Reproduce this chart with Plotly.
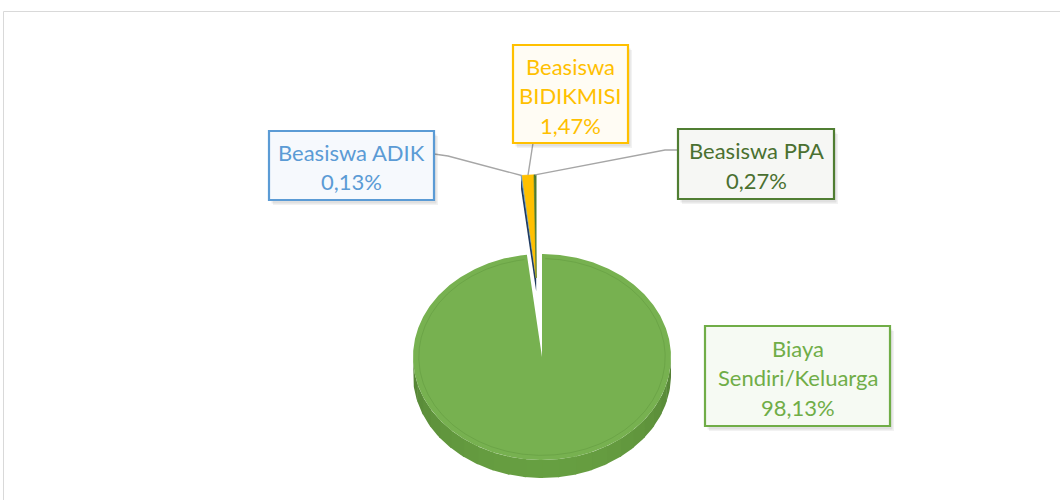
import numpy as np
import plotly.graph_objects as go

# ---------------- data ----------------
categories = ["Biaya Sendiri/Keluarga", "Beasiswa ADIK", "Beasiswa BIDIKMISI", "Beasiswa PPA"]
values = [98.13, 0.13, 1.47, 0.27]

# ---------------- styles ----------------
slice_colors = ["#77B150", "#5B9BD5", "#FFC000", "#4E7A30"]
side_colors = ["#659C40", "#1F3A60", "#B08400", "#2E4A1B"]
text_colors = ["#70AD47", "#5B9BD5", "#FFC000", "#4A7030"]
border_colors = ["#70AD47", "#5B9BD5", "#FFC000", "#507E32"]
fill_colors = ["#F6FAF3", "#F6F9FD", "#FFFCF4", "#F6F7F4"]
label_lines = {
    "Biaya Sendiri/Keluarga": ["Biaya", "Sendiri/Keluarga"],
    "Beasiswa ADIK": ["Beasiswa ADIK"],
    "Beasiswa BIDIKMISI": ["Beasiswa", "BIDIKMISI"],
    "Beasiswa PPA": ["Beasiswa PPA"],
}
label_boxes = {  # x0, y0, x1, y1 in pixels
    "Biaya Sendiri/Keluarga": (705, 326, 890, 426),
    "Beasiswa ADIK": (269, 131, 434, 200),
    "Beasiswa BIDIKMISI": (513, 45, 628, 143),
    "Beasiswa PPA": (678, 129, 834, 199),
}
leader_start = {  # start point(s) of leader lines at the label box
    "Beasiswa ADIK": [(434, 154), (448, 156)],
    "Beasiswa BIDIKMISI": [(533, 143)],
    "Beasiswa PPA": [(678, 150), (665, 150)],
}

W, H = 1060, 500
CX, CY = 542, 357
RX, RY = 129, 103
DEPTH = 18
EXPLODE = 0.77
FONT = "Lato, Carlito, 'Open Sans', sans-serif"
FSIZE = 22
LINE_H = 29.5

total = sum(values)
starts, ends = [], []
acc = 0.0
for v in values:
    starts.append(360.0 * acc / total)
    acc += v
    ends.append(360.0 * acc / total)


def pt(phi, r=1.0, ox=0.0, oy=0.0):
    a = np.radians(phi)
    return CX + ox + r * RX * np.sin(a), CY + oy - r * RY * np.cos(a)


def arc(a0, a1, r=1.0, ox=0.0, oy=0.0, n=None):
    if n is None:
        n = max(3, int(abs(a1 - a0) * 2) + 2)
    ph = np.linspace(a0, a1, n)
    x, y = pt(ph, r, ox, oy)
    return list(x), list(y)


fig = go.Figure()


def poly(xs, ys, color, line_color=None, width=0):
    fig.add_trace(go.Scatter(
        x=xs, y=ys, mode="lines", fill="toself", fillcolor=color,
        line=dict(color=line_color or color, width=width),
        hoverinfo="skip", showlegend=False))


def hexrgb(h):
    h = h.lstrip("#")
    return [int(h[i:i + 2], 16) for i in (0, 2, 4)]


# ---- main slice (not exploded): side with shading ----
base = hexrgb(side_colors[0])
seg = 7.5
a = 90.0
while a < 270.0 - 1e-9:
    b = min(a + seg, 270.0)
    mid = (a + b) / 2
    f = 0.80 + 0.22 * np.sin(np.radians(mid - 90)) ** 0.7
    c = "rgb(%d,%d,%d)" % tuple(min(255, int(ch * f)) for ch in base)
    tx, ty = arc(a - 0.4, b + 0.4)
    bx, by = arc(b + 0.4, a - 0.4, oy=DEPTH)
    poly(tx + bx, ty + by, c)
    a = b

# ---- main slice top face ----
tx, ty = arc(starts[0], ends[0])
poly([CX] + tx + [CX], [CY] + ty + [CY], slice_colors[0])
# subtle bevel line
bx, by = arc(starts[0] + 1.5, ends[0] - 1.5, r=0.955)
fig.add_trace(go.Scatter(x=bx, y=by, mode="lines",
                         line=dict(color="rgba(85,140,55,0.35)", width=1),
                         hoverinfo="skip", showlegend=False))

# ---- exploded small slices (common offset along group bisector) ----
g0, g1 = starts[1], ends[-1]
gmid = np.radians((g0 + g1) / 2)
ox = EXPLODE * RX * np.sin(gmid)
oy = -EXPLODE * RY * np.cos(gmid)
tipx, tipy = CX + ox, CY + oy

# visible radial side face of the left-most exploded slice
ex, ey = pt(starts[1], 1.0, ox, oy)
poly([tipx, ex, ex, tipx], [tipy, ey, ey + DEPTH * 0.75, tipy + DEPTH * 0.75], side_colors[1])

for i in range(1, len(values)):
    sx, sy = arc(starts[i], ends[i], ox=ox, oy=oy, n=12)
    poly([tipx] + sx + [tipx], [tipy] + sy + [tipy], slice_colors[i],
         line_color=slice_colors[i], width=0.6)

# ---- leader lines ----
for i in range(1, len(values)):
    name = categories[i]
    ex, ey = pt((starts[i] + ends[i]) / 2, 1.0, ox, oy)
    pts = leader_start[name] + [(ex, ey)]
    fig.add_trace(go.Scatter(x=[p[0] for p in pts], y=[p[1] for p in pts], mode="lines",
                             line=dict(color="#A6A6A6", width=1.4),
                             hoverinfo="skip", showlegend=False))

# ---- label boxes and texts ----
shapes = [dict(type="rect", xref="x", yref="y", x0=3.5, y0=11.5, x1=W + 20, y1=H + 20,
               line=dict(color="#D9D9D9", width=1), fillcolor="rgba(0,0,0,0)", layer="below")]
annotations = []
for i, name in enumerate(categories):
    x0, y0, x1, y1 = label_boxes[name]
    for d, al in ((4, 0.05), (2.5, 0.07)):
        shapes.append(dict(type="rect", xref="x", yref="y", x0=x0 + d, y0=y0 + d + 1,
                           x1=x1 + d, y1=y1 + d + 1, line=dict(width=0),
                           fillcolor="rgba(0,0,0,%.2f)" % al))
    shapes.append(dict(type="rect", xref="x", yref="y", x0=x0, y0=y0, x1=x1, y1=y1,
                       line=dict(color=border_colors[i], width=2.2), fillcolor=fill_colors[i]))
    pct = ("%.2f" % values[i]).replace(".", ",") + "%"
    lines = label_lines[name] + [pct]
    cxb = (x0 + x1) / 2
    cyb = (y0 + y1) / 2 + 1.5
    n = len(lines)
    for k, t in enumerate(lines):
        yk = cyb + (k - (n - 1) / 2) * LINE_H
        annotations.append(dict(x=cxb, y=yk, xref="x", yref="y", text=t, showarrow=False,
                                xanchor="center", yanchor="middle",
                                font=dict(family=FONT, size=FSIZE, color=text_colors[i])))

fig.update_layout(
    width=W, height=H,
    margin=dict(l=0, r=0, t=0, b=0),
    paper_bgcolor="white", plot_bgcolor="white",
    xaxis=dict(range=[0, W], visible=False, fixedrange=True),
    yaxis=dict(range=[H, 0], visible=False, fixedrange=True),
    shapes=shapes, annotations=annotations, showlegend=False,
)

fig.write_html("out.html", config={"displayModeBar": False},
               post_script="document.body.style.margin='0';document.body.style.overflow='hidden';")
